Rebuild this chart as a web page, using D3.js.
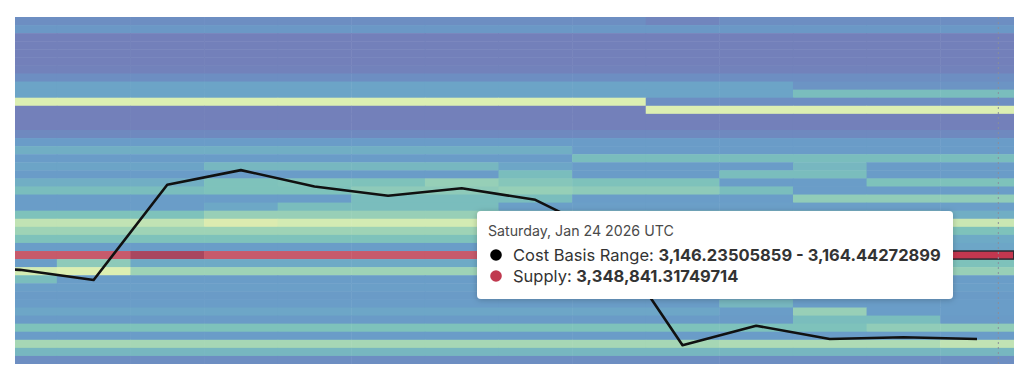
<!DOCTYPE html>
<html>
<head>
<meta charset="utf-8">
<script src="https://cdn.jsdelivr.net/npm/d3@7"></script>
<style>
  body { margin: 0; background: #fff; }
  svg { display: block; font-family: Inter, "Noto Sans", sans-serif; }
</style>
</head>
<body>
<div id="chart"></div>
<script>
// one heatmap column per day
const dates = ["2026-01-11", "2026-01-12", "2026-01-13", "2026-01-14", "2026-01-15", "2026-01-16", "2026-01-17",
    "2026-01-18", "2026-01-19", "2026-01-20", "2026-01-21", "2026-01-22", "2026-01-23", "2026-01-24"];

// close price, the first day sits just left of the visible window
const priceDates = ["2026-01-10"].concat(dates);
const price = [3128, 3122, 3099, 3314, 3347, 3310, 3289, 3306, 3280, 3198, 2952, 2996, 2966, 2970, 2966];

// cost basis bins (USD)
const binStart = 2909.53534339;
const binWidth = 18.2076704;

// supply per bin, thousands of ETH, top bin first
const supplyK = [
    [150, 150, 150, 150, 150, 150, 150, 150, 150, 90, 150, 150, 150, 150],
    [240, 240, 240, 240, 240, 240, 240, 240, 240, 240, 240, 240, 240, 240],
    [60, 60, 60, 60, 60, 60, 60, 60, 60, 60, 60, 60, 60, 60],
    [60, 60, 60, 60, 60, 60, 60, 60, 60, 60, 60, 60, 60, 60],
    [60, 60, 60, 60, 60, 60, 60, 60, 60, 60, 60, 60, 60, 60],
    [60, 60, 60, 60, 60, 60, 60, 60, 60, 60, 60, 60, 60, 60],
    [70, 70, 70, 70, 70, 70, 70, 70, 70, 70, 70, 70, 70, 70],
    [150, 150, 150, 150, 150, 150, 150, 150, 150, 150, 150, 150, 150, 150],
    [360, 360, 360, 360, 360, 360, 360, 360, 360, 360, 360, 200, 200, 200],
    [360, 360, 360, 360, 360, 360, 360, 360, 360, 360, 360, 560, 560, 560],
    [1150, 1150, 1150, 1150, 1150, 1150, 1150, 1150, 1150, 150, 150, 150, 150, 150],
    [60, 60, 60, 60, 60, 60, 60, 60, 60, 1150, 1150, 1150, 1150, 1150],
    [60, 60, 60, 60, 60, 60, 60, 60, 60, 60, 60, 60, 60, 60],
    [60, 60, 60, 60, 60, 60, 60, 60, 60, 60, 60, 60, 60, 60],
    [120, 120, 120, 120, 120, 120, 120, 120, 120, 120, 120, 120, 120, 120],
    [270, 270, 270, 270, 270, 270, 270, 270, 270, 270, 270, 270, 270, 270],
    [450, 450, 450, 450, 450, 450, 450, 450, 270, 270, 270, 270, 270, 270],
    [270, 270, 270, 270, 270, 270, 270, 270, 560, 560, 560, 560, 560, 560],
    [360, 360, 360, 520, 520, 520, 520, 380, 270, 270, 270, 520, 270, 270],
    [270, 270, 270, 270, 270, 270, 270, 560, 270, 270, 560, 560, 270, 270],
    [450, 450, 450, 600, 620, 600, 750, 650, 600, 600, 280, 280, 600, 600],
    [560, 560, 560, 600, 600, 700, 700, 750, 700, 700, 560, 280, 280, 280],
    [280, 280, 280, 280, 280, 560, 560, 560, 280, 280, 280, 720, 720, 720],
    [280, 280, 280, 400, 560, 560, 560, 300, 300, 300, 300, 300, 300, 300],
    [600, 600, 600, 760, 760, 760, 760, 760, 760, 700, 700, 700, 700, 450],
    [1000, 1000, 1000, 1200, 1100, 1100, 1100, 1100, 1050, 1050, 1050, 1050, 1050, 1050],
    [800, 800, 800, 800, 800, 800, 800, 780, 780, 750, 750, 700, 650, 600],
    [600, 600, 600, 600, 600, 600, 600, 600, 600, 600, 600, 600, 600, 420],
    [280, 280, 280, 280, 280, 280, 280, 280, 280, 280, 280, 280, 280, 380],
    [3200, 3200, 3900, 3200, 3200, 3200, 3200, 3200, 3200, 3200, 3200, 3200, 3200, 3348.84131749714],
    [280, 700, 420, 420, 420, 420, 420, 420, 420, 420, 420, 420, 420, 600],
    [1100, 1150, 800, 800, 800, 800, 800, 800, 800, 800, 800, 800, 800, 760],
    [560, 280, 280, 280, 280, 280, 280, 280, 280, 280, 280, 280, 280, 280],
    [300, 300, 300, 300, 300, 300, 300, 300, 300, 300, 300, 300, 300, 300],
    [260, 260, 260, 260, 260, 260, 260, 260, 260, 260, 260, 260, 260, 260],
    [280, 280, 280, 280, 280, 280, 280, 280, 280, 280, 520, 280, 280, 280],
    [380, 380, 380, 380, 380, 380, 380, 380, 380, 380, 280, 760, 280, 280],
    [260, 260, 260, 260, 260, 260, 260, 260, 260, 260, 260, 560, 560, 260],
    [600, 600, 600, 600, 600, 600, 600, 600, 600, 600, 600, 600, 720, 720],
    [270, 270, 270, 270, 270, 270, 270, 270, 270, 270, 270, 270, 270, 270],
    [850, 850, 850, 850, 850, 850, 850, 850, 850, 850, 900, 900, 900, 1000],
    [520, 520, 520, 520, 520, 520, 520, 520, 520, 520, 520, 520, 520, 520],
    [150, 150, 150, 150, 150, 150, 150, 150, 150, 150, 150, 150, 150, 150]
];

// hovered cell
const hoverDate = "2026-01-24";
const hoverRow = 29;

const width = 1024;
const height = 373;
const plot = { left: 15, top: 17, right: 1014, bottom: 364 };

const parse = d3.utcParse("%Y-%m-%d");
const nBins = supplyK.length;
const binLow = r => binStart + (nBins - 1 - r) * binWidth;

// the view is zoomed in, so the first visible day is cut in half
const x = d3.scaleBand()
    .domain(priceDates)
    .range([-90.4, 1013.8])
const y = d3.scaleLinear()
    .domain([binStart, binStart + nBins * binWidth])
    .range([plot.bottom, plot.top])

const color = d3.scaleLinear()
    .domain([60, 150, 280, 420, 600, 850, 1150, 3000, 3900])
    .range(["#7380ba", "#6d8ec2", "#6a9dc8", "#6eaac6", "#7ec2bb", "#a6d7b5", "#dcefb2", "#d0606e", "#a9475f"])
    .clamp(true)

const svg = d3.select('#chart')
    .append('svg').attr('width', width).attr('height', height)

const defs = svg.append('defs')
defs.append('clipPath').attr('id', 'plot-clip')
    .append('rect')
    .attr('x', plot.left).attr('y', plot.top)
    .attr('width', plot.right - plot.left).attr('height', plot.bottom - plot.top)
const shadow = defs.append('filter').attr('id', 'shadow')
    .attr('x', '-10%').attr('y', '-20%').attr('width', '120%').attr('height', '150%')
shadow.append('feDropShadow')
    .attr('dx', 0).attr('dy', 1).attr('stdDeviation', 3)
    .attr('flood-color', '#000').attr('flood-opacity', 0.22)

const g = svg.append('g').attr('clip-path', 'url(#plot-clip)')

// heatmap cells
const cells = [];
supplyK.forEach((row, r) => {
    row.forEach((v, c) => cells.push({ r, date: dates[c], v }))
})
g.append('g')
    .selectAll('rect')
    .data(cells)
    .join('rect')
    .attr('x', d => x(d.date))
    .attr('y', d => y(binLow(d.r) + binWidth))
    .attr('width', x.bandwidth() + 0.5)
    .attr('height', d => y(binLow(d.r)) - y(binLow(d.r) + binWidth) + 0.5)
    .attr('fill', d => color(d.v))

// highlighted cell
g.append('rect')
    .attr('x', x(hoverDate))
    .attr('y', y(binLow(hoverRow) + binWidth))
    .attr('width', x.bandwidth())
    .attr('height', y(binLow(hoverRow)) - y(binLow(hoverRow) + binWidth))
    .attr('fill', '#c3374f')
    .attr('stroke', '#2b2b33')
    .attr('stroke-width', 1.5)

// cursor line
const cursorX = x(hoverDate) + x.bandwidth() * 0.79;
g.append('line')
    .attr('x1', cursorX).attr('x2', cursorX)
    .attr('y1', plot.top).attr('y2', plot.bottom)
    .attr('stroke', '#8a8f9a')
    .attr('stroke-width', 1)
    .attr('stroke-dasharray', '2,3')

// price line
const line = d3.line()
    .x((d, i) => x(priceDates[i]) + x.bandwidth() / 2)
    .y(d => y(d))
g.append('path')
    .datum(price)
    .attr('d', line)
    .attr('fill', 'none')
    .attr('stroke', '#111')
    .attr('stroke-width', 2.6)
    .attr('stroke-linejoin', 'round')

// tooltip
const fmt = d3.format(",.8f");
const lo = binLow(hoverRow), hi = lo + binWidth;
const supply = supplyK[hoverRow][dates.indexOf(hoverDate)] * 1000;

const tip = svg.append('g').attr('transform', 'translate(477,211)')
tip.append('rect')
    .attr('width', 476).attr('height', 88).attr('rx', 4)
    .attr('fill', '#fff')
    .attr('filter', 'url(#shadow)')
tip.append('text')
    .attr('x', 11).attr('y', 25)
    .attr('font-size', 14.2).attr('fill', '#4a4a4a')
    .text(d3.utcFormat("%A, %b %d %Y UTC")(parse(hoverDate)))

const rows = [
    { dot: '#000', label: 'Cost Basis Range: ', value: fmt(lo) + ' - ' + fmt(hi), y: 50 },
    { dot: '#c0394f', label: 'Supply: ', value: fmt(supply), y: 71 }
];
rows.forEach(row => {
    tip.append('circle').attr('cx', 19).attr('cy', row.y - 6).attr('r', 5.8).attr('fill', row.dot)
    const t = tip.append('text')
        .attr('x', 36).attr('y', row.y)
        .attr('font-size', 16.5).attr('fill', '#333')
    t.append('tspan').text(row.label)
    t.append('tspan').attr('font-weight', 700).text(row.value)
})
</script>
</body>
</html>
